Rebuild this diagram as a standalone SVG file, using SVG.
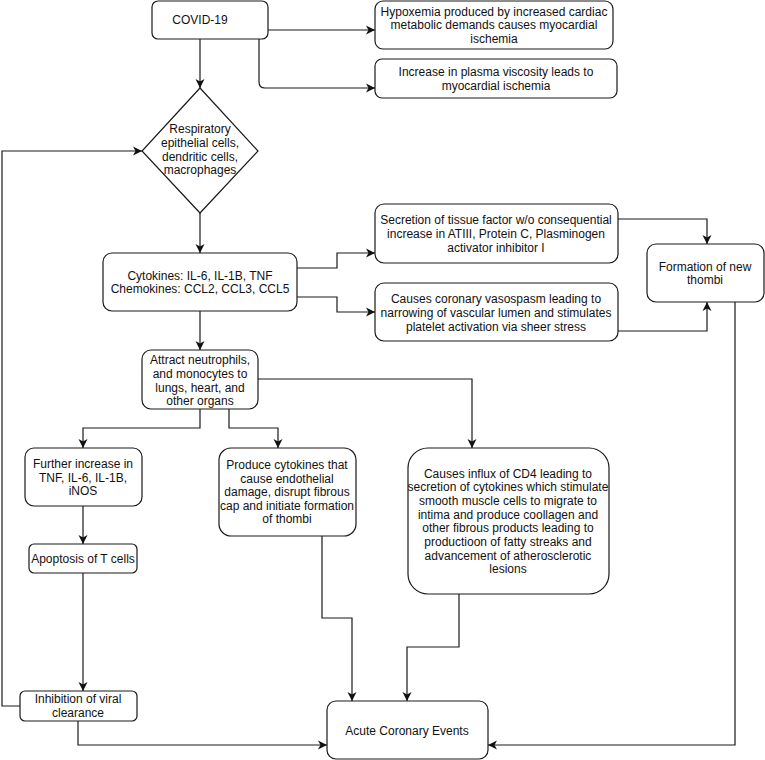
<svg xmlns="http://www.w3.org/2000/svg" width="765" height="760" viewBox="0 0 765 760">
<defs>
<style>
.box{fill:#fff;stroke:#1a1a1a;stroke-width:1.2}
.t{font-family:"Liberation Sans",Arial,Helvetica,sans-serif;font-size:12px;fill:#111;text-anchor:middle}
.c{fill:none;stroke:#1a1a1a;stroke-width:1.2}
</style>
<marker id="ah" markerUnits="userSpaceOnUse" markerWidth="10" markerHeight="10" refX="9" refY="4.5" orient="auto" viewBox="0 0 10 9">
<path d="M0,0 L9,4.5 L0,9 L2.5,4.5 Z" fill="#111"/>
</marker>
</defs>
<rect width="765" height="760" fill="#fff"/>
<g id="connectors">
<path class="c" d="M268,30 H375" marker-end="url(#ah)"/>
<path class="c" d="M259,39 V82 Q259,88 265,88 H375" marker-end="url(#ah)"/>
<path class="c" d="M200,39 V88" marker-end="url(#ah)"/>
<path class="c" d="M200,213 V253" marker-end="url(#ah)"/>
<path class="c" d="M297,268 H337 V253 H375" marker-end="url(#ah)"/>
<path class="c" d="M297,297 H337 V312 H375" marker-end="url(#ah)"/>
<path class="c" d="M618,219 H707 V244" marker-end="url(#ah)"/>
<path class="c" d="M618,331 H707 V302" marker-end="url(#ah)"/>
<path class="c" d="M735,302 V745 H488" marker-end="url(#ah)"/>
<path class="c" d="M200,311 V350" marker-end="url(#ah)"/>
<path class="c" d="M258,379 H472 V448" marker-end="url(#ah)"/>
<path class="c" d="M200,409 V428 H83 V448" marker-end="url(#ah)"/>
<path class="c" d="M229,409 V428 H278 V448" marker-end="url(#ah)"/>
<path class="c" d="M83,506 V544" marker-end="url(#ah)"/>
<path class="c" d="M83,573 V691" marker-end="url(#ah)"/>
<path class="c" d="M78,721 V745 H327" marker-end="url(#ah)"/>
<path class="c" d="M20,706 H2 V151 H142" marker-end="url(#ah)"/>
<path class="c" d="M322,536 V618 H352 V701" marker-end="url(#ah)"/>
<path class="c" d="M459,594 V647 H407 V701" marker-end="url(#ah)"/>
</g>
<g id="covid">
<rect class="box" x="152" y="1" width="116" height="38" rx="6"/>
<text class="t" x="200" y="24">COVID-19</text>
</g>
<g id="hypoxemia">
<rect class="box" x="375" y="1" width="238" height="48" rx="8"/>
<text class="t" x="494" y="16">Hypoxemia produced by increased cardiac</text>
<text class="t" x="494" y="29">metabolic demands causes myocardial</text>
<text class="t" x="494" y="43">ischemia</text>
</g>
<g id="plasma">
<rect class="box" x="375" y="59" width="242" height="39" rx="7"/>
<text class="t" x="496" y="76">Increase in plasma viscosity leads to</text>
<text class="t" x="496" y="90">myocardial ischemia</text>
</g>
<g id="cells">
<polygon class="box" points="200,88 258,151 200,213 142,151"/>
<text class="t" x="200" y="133">Respiratory</text>
<text class="t" x="200" y="147">epithelial cells,</text>
<text class="t" x="200" y="161">dendritic cells,</text>
<text class="t" x="200" y="174">macrophages</text>
</g>
<g id="cytokines">
<rect class="box" x="103" y="253" width="194" height="58" rx="9"/>
<text class="t" x="200" y="280">Cytokines: IL-6, IL-1B, TNF</text>
<text class="t" x="200" y="293">Chemokines: CCL2, CCL3, CCL5</text>
</g>
<g id="secretion">
<rect class="box" x="375" y="204" width="243" height="59" rx="9"/>
<text class="t" x="496" y="224">Secretion of tissue factor w/o consequential</text>
<text class="t" x="496" y="238">increase in ATIII, Protein C, Plasminogen</text>
<text class="t" x="496" y="252">activator inhibitor I</text>
</g>
<g id="vasospasm">
<rect class="box" x="375" y="283" width="243" height="58" rx="9"/>
<text class="t" x="496" y="303">Causes coronary vasospasm leading to</text>
<text class="t" x="496" y="317">narrowing of vascular lumen and stimulates</text>
<text class="t" x="496" y="331">platelet activation via sheer stress</text>
</g>
<g id="formation">
<rect class="box" x="647" y="244" width="117" height="58" rx="9"/>
<text class="t" x="705" y="271">Formation of new</text>
<text class="t" x="705" y="284">thombi</text>
</g>
<g id="attract">
<rect class="box" x="142" y="350" width="116" height="59" rx="9"/>
<text class="t" x="200" y="364">Attract neutrophils,</text>
<text class="t" x="200" y="378">and monocytes to</text>
<text class="t" x="200" y="392">lungs, heart, and</text>
<text class="t" x="200" y="405">other organs</text>
</g>
<g id="further">
<rect class="box" x="25" y="448" width="117" height="58" rx="9"/>
<text class="t" x="83" y="468">Further increase in</text>
<text class="t" x="83" y="482">TNF, IL-6, IL-1B,</text>
<text class="t" x="83" y="495">iNOS</text>
</g>
<g id="apoptosis">
<rect class="box" x="29" y="544" width="108" height="29" rx="5"/>
<text class="t" x="83" y="563">Apoptosis of T cells</text>
</g>
<g id="produce">
<rect class="box" x="219" y="448" width="137" height="88" rx="12"/>
<text class="t" x="287" y="469">Produce cytokines that</text>
<text class="t" x="287" y="483">cause endothelial</text>
<text class="t" x="287" y="496">damage, disrupt fibrous</text>
<text class="t" x="287" y="510">cap and initiate formation</text>
<text class="t" x="287" y="523">of thombi</text>
</g>
<g id="influx">
<rect class="box" x="408" y="448" width="201" height="146" rx="20"/>
<text class="t" x="508" y="478">Causes influx of CD4 leading to</text>
<text class="t" x="508" y="491">secretion of cytokines which stimulate</text>
<text class="t" x="508" y="505">smooth muscle cells to migrate to</text>
<text class="t" x="508" y="519">intima and produce coollagen and</text>
<text class="t" x="508" y="532">other fibrous products leading to</text>
<text class="t" x="508" y="546">productioon of fatty streaks and</text>
<text class="t" x="508" y="560">advancement of atherosclerotic</text>
<text class="t" x="508" y="573">lesions</text>
</g>
<g id="inhibition">
<rect class="box" x="20" y="691" width="117" height="30" rx="5"/>
<text class="t" x="78" y="703">Inhibition of viral</text>
<text class="t" x="78" y="717">clearance</text>
</g>
<g id="acute">
<rect class="box" x="327" y="701" width="161" height="58" rx="9"/>
<text class="t" x="407" y="735">Acute Coronary Events</text>
</g>
</svg>
